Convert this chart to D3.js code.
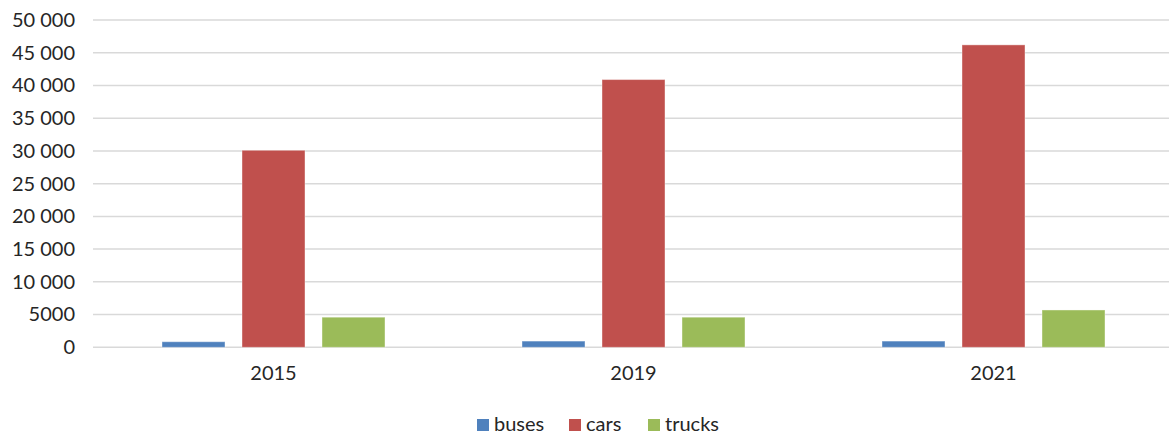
<!DOCTYPE html>
<html>
<head>
<meta charset="utf-8">
<script src="https://cdn.jsdelivr.net/npm/d3@7"></script>
<style>
  body { margin: 0; background: #fff; }
  text { font-family: Lato, "Open Sans", sans-serif; fill: #262626; }
</style>
</head>
<body>
<div id="chart"></div>
<script>
// data
var years = ["2015", "2019", "2021"];
var seriesNames = ["buses", "cars", "trucks"];
var buses = [850, 950, 950];
var cars = [30100, 40900, 46200];
var trucks = [4600, 4600, 5700];
var yTicks = [0, 5000, 10000, 15000, 20000, 25000, 30000, 35000, 40000, 45000, 50000];
var colors = ["#4F81BD", "#C0504D", "#9BBB59"];

var svgWidth = 1169;
var svgHeight = 434;

var svg = d3.select("#chart")
  .append("svg")
  .attr("width", svgWidth)
  .attr("height", svgHeight);

var seriesValues = [buses, cars, trucks];

// x scale for the year groups
var x0 = d3.scaleBand()
  .domain(years)
  .range([93.5, 1173.5])
  .padding(0);

var x1 = d3.scaleBand()
  .domain(seriesNames)
  .range([0, x0.bandwidth()])
  .paddingInner(17 / 80)
  .paddingOuter((360 - 223) / 2 / 80);

var y = d3.scaleLinear()
  .domain([0, 50000])
  .range([347.3, 20]);

var fmt = function (v) {
  if (v < 10000) return String(v);
  return d3.format(",")(v).replace(/,/g, " ");
};

// gridlines
svg.append("g")
  .selectAll("line")
  .data(yTicks)
  .enter()
  .append("line")
  .attr("x1", 93)
  .attr("x2", 1169)
  .attr("y1", d => y(d))
  .attr("y2", d => y(d))
  .attr("stroke", "#d9d9d9")
  .attr("stroke-width", 1.5);

// y axis labels
var yAxis = d3.axisLeft(y).tickValues(yTicks).tickFormat(fmt).tickSize(0).tickPadding(0);
var yAxisG = svg.append("g")
  .attr("transform", "translate(75, 0)")
  .call(yAxis);
yAxisG.select(".domain").remove();
yAxisG.selectAll("text")
  .style("font-size", "20px")
  .style("font-family", "Lato, 'Open Sans', sans-serif")
  .attr("fill", "#262626");

// bars
var groups = svg.append("g")
  .selectAll("g")
  .data(years)
  .enter()
  .append("g")
  .attr("transform", d => `translate(${x0(d)}, 0)`);

groups.selectAll("rect")
  .data((d, i) => seriesNames.map((s, j) => ({ series: s, value: seriesValues[j][i], idx: j })))
  .enter()
  .append("rect")
  .attr("x", d => x1(d.series))
  .attr("width", x1.bandwidth())
  .attr("y", d => y(d.value))
  .attr("height", d => y(0) - y(d.value))
  .attr("fill", d => colors[d.idx])
  .attr("stroke", "#ffffff")
  .attr("stroke-opacity", 0.4)
  .attr("stroke-width", 1);

// x axis labels
var xAxis = d3.axisBottom(x0).tickSize(0).tickPadding(0);
var xAxisG = svg.append("g")
  .attr("transform", "translate(0, 366)")
  .call(xAxis);
xAxisG.select(".domain").remove();
xAxisG.selectAll("text")
  .style("font-size", "20px")
  .style("font-family", "Lato, 'Open Sans', sans-serif")
  .attr("fill", "#262626");

// legend
var legendX = [477, 569, 648];
var legend = svg.append("g")
  .selectAll("g")
  .data(seriesNames)
  .enter()
  .append("g")
  .attr("transform", (d, i) => `translate(${legendX[i]}, 419)`);

legend.append("rect")
  .attr("width", 12)
  .attr("height", 12)
  .attr("fill", (d, i) => colors[i]);

legend.append("text")
  .attr("x", 17)
  .attr("y", 12)
  .style("font-size", "20px")
  .text(d => d);
</script>
</body>
</html>
